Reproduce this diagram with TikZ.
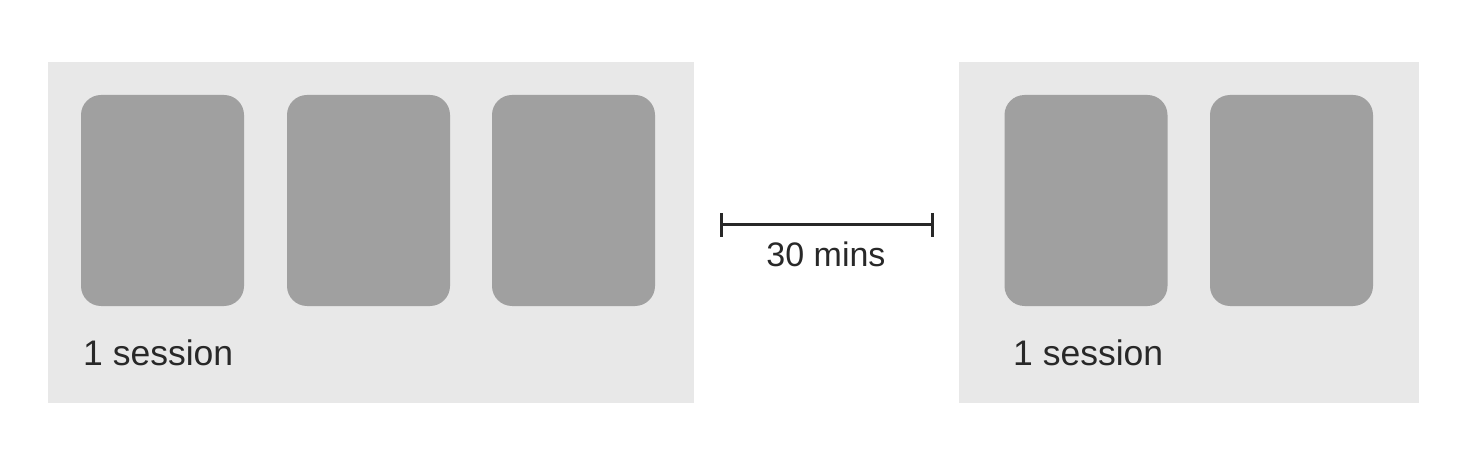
\documentclass[tikz,border=0pt]{standalone}
\usepackage{fontspec}
\setmainfont{Liberation Sans}
\usetikzlibrary{arrows.meta}

\definecolor{panelgray}{RGB}{232,232,232}
\definecolor{cardgray}{RGB}{160,160,160}
\definecolor{inkgray}{RGB}{40,40,40}

\tikzset{
  panel/.style={fill=panelgray, inner sep=0pt, minimum width=#1, minimum height=341},
  card/.style={fill=cardgray, rounded corners=20, inner sep=0pt, minimum width=163, minimum height=211},
  label/.style={anchor=base west, inner sep=0pt, text=inkgray, font=\fontsize{35.5}{40}\selectfont},
}

\begin{document}
\begin{tikzpicture}[x=1pt,y=1pt,yscale=-1,xscale=1]
\useasboundingbox (0,0) rectangle (1472,454);

%Panels
\node [panel=646] (first) at (371,232.5) {};
\node [panel=460] (second) at (1189,232.5) {};

%Cards of the first session
\node [card] (a1) at (162.5,200.5) {};
\node [card] (a2) at (368.5,200.5) {};
\node [card] (a3) at (573.5,200.5) {};

%Cards of the second session
\node [card] (b1) at (1086,200.5) {};
\node [card] (b2) at (1291.5,200.5) {};

% Text Node
\node [label] (s1) at (83,365) {1 session};
% Text Node
\node [label] (s2) at (1013,365) {1 session};

%Gap bar
\coordinate (gapL) at (720,225);
\coordinate (gapR) at (934,225);
\draw [inkgray, line width=3, {Bar[width=24]}-{Bar[width=24]}] (gapL) -- (gapR);
% Text Node
\node [anchor=base, inner sep=0pt, text=inkgray, font=\fontsize{34}{38}\selectfont] (gap) at (826,267) {30 mins};

\end{tikzpicture}
\end{document}
